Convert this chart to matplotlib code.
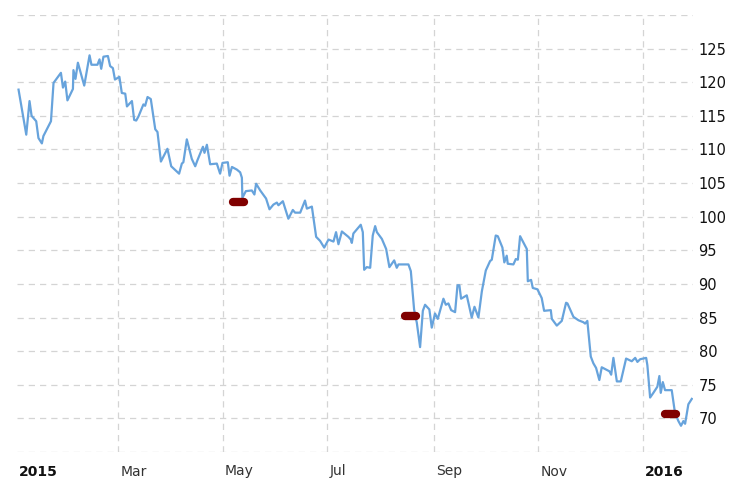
import numpy as np
import pandas as pd
import matplotlib
matplotlib.use("Agg")
import matplotlib.pyplot as plt
import matplotlib.transforms as mtransforms

# Data: price series, x as day offset from 2015-01-01
days = [0.9, 5.4, 7.3, 8.5, 11.2, 12.5, 14.5, 15.4, 19.8, 21.3, 25.6, 26.8, 28.1, 29.4,
        32.6, 32.9, 34.1, 35.5, 39.2, 42.3, 43.4, 46.9, 48.1, 49.1, 50.4, 53.0, 54.3,
        55.9, 57.1, 59.7, 61.1, 63.1, 64.1, 67.0, 68.3, 69.5, 70.8, 73.7, 74.7, 76.1,
        78.0, 80.6, 81.9, 83.9, 87.7, 89.9, 94.5, 96.1, 97.0, 99.0, 101.9, 103.9, 105.2,
        108.4, 109.3, 110.7, 112.6, 116.5, 118.4, 119.8, 122.9, 123.9, 125.3, 128.2,
        130.1, 131.1, 131.4, 133.4, 136.9, 138.4, 139.4, 141.8, 145.2, 147.2, 149.5,
        151.5, 152.4, 155.0, 158.2, 160.8, 162.1, 165.1, 167.9, 169.0, 171.9, 174.4,
        176.7, 179.1, 181.6, 184.5, 186.0, 187.4, 189.4, 193.2, 194.6, 195.2, 196.1,
        200.4, 201.6, 202.4, 203.9, 205.9, 207.4, 208.8, 209.8, 212.7, 215.2, 217.1,
        219.9, 221.4, 222.4, 228.2, 229.6, 231.5, 233.1, 235.0, 236.6, 237.9, 240.4,
        241.8, 243.7, 245.3, 248.6, 250.0, 251.5, 253.1, 255.4, 256.8, 257.9, 258.9,
        262.2, 265.1, 266.7, 269.0, 271.0, 273.3, 275.8, 276.8, 279.1, 280.3, 283.0,
        284.1, 285.5, 286.1, 289.4, 290.8, 292.0, 293.3, 296.2, 297.2, 297.8, 299.7,
        300.7, 303.4, 305.9, 307.3, 311.2, 311.8, 314.7, 317.6, 320.1, 320.9, 324.4,
        327.3, 330.2, 331.2, 332.5, 334.5, 336.0, 337.6, 339.5, 340.9, 345.4, 346.4,
        347.7, 349.7, 352.0, 355.1, 358.4, 360.4, 361.7, 363.3, 366.8, 367.5, 369.1,
        371.0, 373.3, 374.5, 375.3, 376.5, 377.8, 381.7, 383.6, 385.6, 387.1, 388.5,
        389.5, 391.4, 393.4]
values = [118.9, 112.2, 117.2, 115.0, 114.2, 111.7, 110.9, 112.0, 114.2, 119.9, 121.4,
          119.2, 120.1, 117.3, 119.0, 121.8, 120.5, 122.9, 119.5, 124.0, 122.6, 122.6,
          123.4, 122.0, 123.8, 123.9, 122.4, 122.1, 120.4, 120.8, 118.4, 118.3, 116.4,
          117.2, 114.4, 114.3, 114.9, 116.7, 116.5, 117.8, 117.5, 113.0, 112.6, 108.2,
          110.1, 107.5, 106.4, 107.9, 108.1, 111.5, 108.6, 107.5, 108.4, 110.4, 109.5,
          110.7, 107.8, 107.9, 106.4, 108.0, 108.1, 106.1, 107.4, 107.0, 106.6, 105.8,
          102.8, 103.8, 103.9, 103.3, 104.9, 103.9, 102.7, 101.1, 101.8, 102.1, 101.7,
          102.3, 99.7, 101.0, 100.6, 100.6, 102.4, 101.2, 101.5, 97.0, 96.4, 95.4, 96.6,
          96.3, 97.7, 95.9, 97.8, 97.0, 96.6, 96.1, 97.5, 98.8, 97.7, 92.1, 92.5, 92.4,
          97.2, 98.6, 97.7, 96.7, 95.2, 92.5, 93.5, 92.4, 92.9, 92.9, 91.9, 86.2, 84.2,
          80.6, 86.0, 86.9, 86.2, 83.5, 85.6, 84.8, 87.8, 86.9, 87.1, 86.1, 85.8, 89.8,
          89.8, 87.8, 88.3, 85.0, 86.6, 85.0, 88.9, 92.0, 93.4, 93.6, 97.2, 97.1, 95.4,
          93.2, 94.2, 93.0, 92.9, 93.7, 93.6, 97.1, 95.7, 95.2, 90.4, 90.6, 89.4, 89.2,
          87.9, 86.0, 86.1, 84.8, 83.8, 84.5, 87.2, 87.1, 85.1, 84.6, 84.3, 84.1, 84.5,
          79.2, 78.2, 77.5, 75.7, 77.6, 77.0, 76.5, 79.0, 75.5, 75.5, 78.9, 78.5, 79.0,
          78.4, 78.8, 79.0, 77.9, 73.1, 73.8, 74.7, 76.3, 73.8, 75.4, 74.2, 74.2, 70.8,
          69.6, 68.9, 69.6, 69.2, 72.1, 72.9]

# event markers
marker_days = [129.4, 229.2, 381.0]
marker_values = [102.2, 85.2, 70.6]

tick_dates = ['2015-01-01', '2015-03-01', '2015-05-01', '2015-07-01',
              '2015-09-01', '2015-11-01', '2016-01-01']
tick_labels = ['2015', 'Mar', 'May', 'Jul', 'Sep', 'Nov', '2016']
y_ticks = list(range(65, 131, 5))

start = pd.Timestamp('2015-01-01')
dates = start + pd.to_timedelta(days, unit='D')

fig = plt.figure(figsize=(7.41, 4.80), dpi=100)
ax = fig.add_axes([17 / 741, 28 / 480, 676 / 741, 437 / 480])

ax.plot(dates, values, color='#67a3dc', lw=1.6, zorder=3)

half = pd.Timedelta(days=3.2)
for d, v in zip(marker_days, marker_values):
    c = start + pd.Timedelta(days=d)
    ax.plot([c - half, c + half], [v, v], color='#800000', lw=6,
            solid_capstyle='round', zorder=4)

ax.set_xlim(start, start + pd.Timedelta(days=394.1))
ax.set_ylim(65, 130)

ax.set_xticks(pd.to_datetime(tick_dates))
ax.set_xticklabels(tick_labels)
ax.set_yticks(y_ticks)
ax.set_yticklabels(['' if t in (65, 130) else str(t) for t in y_ticks])
ax.yaxis.tick_right()

ax.tick_params(axis='both', length=0)
ax.tick_params(axis='y', labelsize=10.5, pad=4, labelcolor='#111111')
ax.tick_params(axis='x', labelsize=10, pad=9, labelcolor='#333333')

offset = mtransforms.ScaledTranslation(2 / 100, 0, fig.dpi_scale_trans)
for lbl in ax.get_xticklabels():
    lbl.set_horizontalalignment('left')
    lbl.set_transform(lbl.get_transform() + offset)
    if lbl.get_text() in ('2015', '2016'):
        lbl.set_fontweight('bold')
        lbl.set_color('#111111')

ax.grid(True, color='#d4d4d4', lw=0.9, linestyle=(0, (5, 4)))
ax.get_xgridlines()[0].set_visible(False)  # no line on the left edge
for s in ax.spines.values():
    s.set_visible(False)

fig.savefig('out.png', dpi=100)
